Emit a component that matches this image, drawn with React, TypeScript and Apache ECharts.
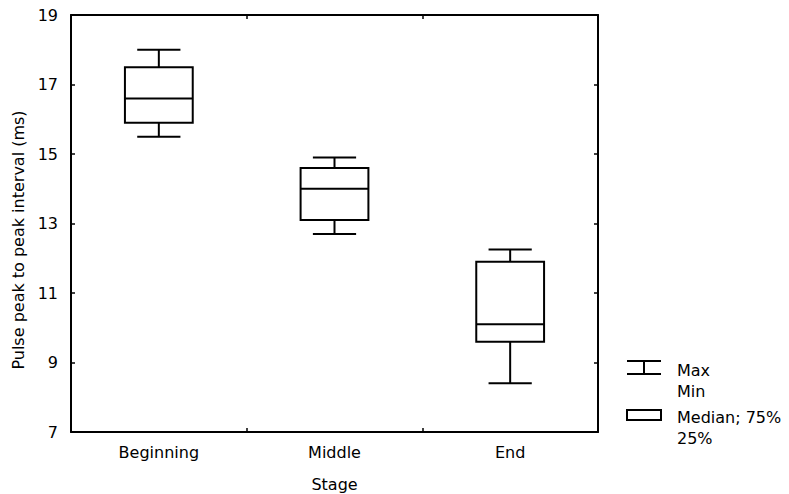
import React, { useEffect, useRef } from "react";
import * as echarts from "echarts";

// Stage categories and box summary values (ms)
const stages = ["Beginning", "Middle", "End"];
const minValues = [15.5, 12.7, 8.4];
const q1Values = [15.9, 13.1, 9.6];
const medianValues = [16.6, 14.0, 10.1];
const q3Values = [17.5, 14.6, 11.9];
const maxValues = [18.0, 14.9, 12.25];

const yTicks = { min: 7, max: 19, interval: 2 };

const FONT = "DejaVu Sans";
const INK = "#000";
const SIZE = 16;

export default function App() {
  const ref = useRef<HTMLDivElement>(null);

  useEffect(() => {
    document.body.style.margin = "0";
    if (!ref.current) return;
    const chart = echarts.init(ref.current, undefined, { renderer: "svg" });

    const data = stages.map((_, i) => [
      i,
      minValues[i],
      q1Values[i],
      medianValues[i],
      q3Values[i],
      maxValues[i],
    ]);

    const lineStyle = { stroke: INK, lineWidth: 2, fill: "none" };

    const renderItem = (params: any, api: any) => {
      const idx = api.value(0);
      const lo = api.coord([idx, api.value(1)]);
      const q1 = api.coord([idx, api.value(2)]);
      const med = api.coord([idx, api.value(3)]);
      const q3 = api.coord([idx, api.value(4)]);
      const hi = api.coord([idx, api.value(5)]);
      const band = api.size([1, 0])[0];
      const halfBox = band * 0.193;
      const halfCap = band * 0.123;
      const cx = lo[0];
      return {
        type: "group",
        children: [
          {
            type: "rect",
            shape: { x: cx - halfBox, y: q3[1], width: halfBox * 2, height: q1[1] - q3[1] },
            style: { stroke: INK, lineWidth: 2, fill: "#fff" },
          },
          { type: "line", shape: { x1: cx - halfBox, y1: med[1], x2: cx + halfBox, y2: med[1] }, style: lineStyle },
          { type: "line", shape: { x1: cx, y1: q3[1], x2: cx, y2: hi[1] }, style: lineStyle },
          { type: "line", shape: { x1: cx, y1: q1[1], x2: cx, y2: lo[1] }, style: lineStyle },
          { type: "line", shape: { x1: cx - halfCap, y1: hi[1], x2: cx + halfCap, y2: hi[1] }, style: lineStyle },
          { type: "line", shape: { x1: cx - halfCap, y1: lo[1], x2: cx + halfCap, y2: lo[1] }, style: lineStyle },
        ],
      };
    };

    const axisLine = { show: true, lineStyle: { color: INK, width: 2 } };
    const innerTick = { show: true, inside: true, length: 4, lineStyle: { color: INK, width: 1.5 } };
    const textBase = { fontFamily: FONT, color: INK, fontSize: SIZE };
    const legendFont = `${SIZE}px "${FONT}"`;

    chart.setOption({
      animation: false,
      backgroundColor: "#fff",
      grid: { left: 71, top: 15, width: 527, height: 417, outerBoundsMode: "none", containLabel: false },
      xAxis: [
        {
          type: "category",
          data: stages,
          position: "bottom",
          boundaryGap: true,
          axisLine,
          axisTick: innerTick,
          axisLabel: { ...textBase, margin: 12 },
          name: "Stage",
          nameLocation: "middle",
          nameGap: 44,
          nameTextStyle: textBase,
          splitLine: { show: false },
        },
        {
          type: "category",
          data: stages,
          position: "top",
          boundaryGap: true,
          axisLine,
          axisTick: innerTick,
          axisLabel: { show: false },
          splitLine: { show: false },
        },
      ],
      yAxis: [
        {
          type: "value",
          min: yTicks.min,
          max: yTicks.max,
          interval: yTicks.interval,
          position: "left",
          axisLine,
          axisTick: innerTick,
          axisLabel: { ...textBase, margin: 13 },
          splitLine: { show: false },
        },
        {
          type: "value",
          min: yTicks.min,
          max: yTicks.max,
          interval: yTicks.interval,
          position: "right",
          axisLine,
          axisTick: innerTick,
          axisLabel: { show: false },
          splitLine: { show: false },
        },
      ],
      series: [
        {
          type: "custom",
          renderItem,
          data,
          encode: { x: 0, y: [1, 2, 3, 4, 5] },
          z: 5,
        },
      ],
      graphic: [
        {
          type: "text",
          x: 18,
          y: 240,
          rotation: Math.PI / 2,
          style: {
            text: "Pulse peak to peak interval (ms)",
            font: legendFont,
            fill: INK,
            align: "center",
            verticalAlign: "middle",
          },
        },
        { type: "line", shape: { x1: 627, y1: 361, x2: 661, y2: 361 }, style: lineStyle },
        { type: "line", shape: { x1: 644, y1: 361, x2: 644, y2: 374 }, style: lineStyle },
        { type: "line", shape: { x1: 627, y1: 374, x2: 661, y2: 374 }, style: lineStyle },
        { type: "text", x: 677, y: 370, style: { text: "Max", font: legendFont, fill: INK, verticalAlign: "middle" } },
        { type: "text", x: 677, y: 391, style: { text: "Min", font: legendFont, fill: INK, verticalAlign: "middle" } },
        { type: "rect", shape: { x: 627, y: 410, width: 34, height: 10 }, style: { stroke: INK, lineWidth: 2, fill: "#fff" } },
        { type: "text", x: 677, y: 417, style: { text: "Median; 75%", font: legendFont, fill: INK, verticalAlign: "middle" } },
        { type: "text", x: 677, y: 438, style: { text: "25%", font: legendFont, fill: INK, verticalAlign: "middle" } },
      ],
    });

    return () => chart.dispose();
  }, []);

  return <div ref={ref} style={{ width: 789, height: 494 }} />;
}
